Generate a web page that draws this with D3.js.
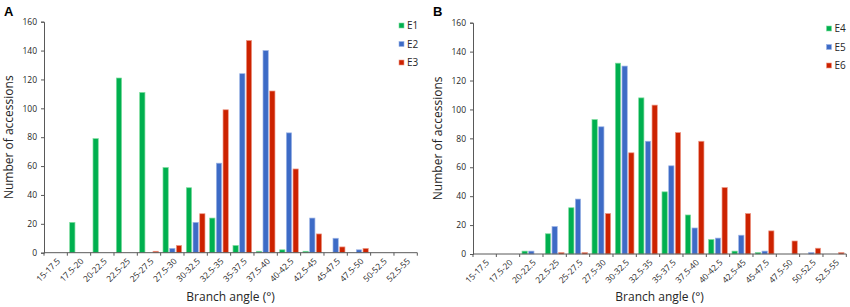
<!DOCTYPE html>
<html>
<head>
<meta charset="utf-8">
<script src="https://cdn.jsdelivr.net/npm/d3@7"></script>
<style>
  body { margin: 0; background: #fff; }
  svg text { font-family: "Open Sans", "Liberation Sans", sans-serif; fill: #262626; }
</style>
</head>
<body>
<svg id="chart" width="850" height="307"></svg>
<script>
// angle classes (x categories)
var categories = ["15-17.5","17.5-20","20-22.5","22.5-25","25-27.5","27.5-30","30-32.5","32.5-35",
                  "35-37.5","37.5-40","40-42.5","42.5-45","45-47.5","47.5-50","50-52.5","52.5-55"];
var yTicks = [0, 20, 40, 60, 80, 100, 120, 140, 160];

// panel A
var seriesA = ["E1", "E2", "E3"];
var e1 = [0, 21, 79, 121, 111, 59, 45, 24, 5, 1, 2, 1, 0, 0, 0, 0];
var e2 = [0, 0, 0, 0, 0, 3, 21, 62, 124, 140, 83, 24, 10, 2, 0, 0];
var e3 = [0, 0, 0, 0, 1, 5, 27, 99, 147, 112, 58, 13, 4, 3, 0, 0];

// panel B
var seriesB = ["E4", "E5", "E6"];
var e4 = [0, 0, 2, 14, 32, 93, 132, 108, 43, 27, 10, 2, 1, 0, 0, 0];
var e5 = [0, 0, 2, 19, 38, 88, 130, 78, 61, 18, 11, 13, 2, 0, 1, 0];
var e6 = [0, 0, 0, 1, 1, 28, 70, 103, 84, 78, 46, 28, 16, 9, 4, 1];

var colors = ["#00b04f", "#3d6bc6", "#cc2200"];
var strokes = ["#7fdc9f", "#9db5e6", "#ee9a88"];

var svg = d3.select("#chart");

function drawPanel(opt) {
  var g = svg.append("g");

  var x = d3.scaleBand().domain(categories).range([opt.x0, opt.x1]).padding(0);
  var x1 = d3.scaleBand().domain(opt.series).range([0, x.bandwidth()])
    .paddingInner(0.21).paddingOuter(0.35);
  var y = d3.scaleLinear().domain([0, 160]).range([opt.y0, opt.y1]);

  // bars
  opt.series.forEach(function(s, si) {
    g.selectAll(null)
      .data(opt.values[si])
      .enter()
      .append("rect")
        .attr("x", function(d, i) { return x(categories[i]) + x1(s); })
        .attr("y", function(d) { return y(d); })
        .attr("width", x1.bandwidth())
        .attr("height", function(d) { return y(0) - y(d); })
        .attr("fill", colors[si])
        .attr("stroke", function(d) { return d > 0 ? strokes[si] : "none"; })
        .attr("stroke-width", 0.7);
  });

  // y axis
  var yAxis = d3.axisLeft(y).tickValues(yTicks).tickSize(3).tickPadding(4);
  var ya = g.append("g")
    .attr("transform", "translate(" + opt.x0 + ",0)")
    .call(yAxis);
  ya.selectAll("text").style("font-size", "8.5px");

  // x axis, ticks on the class boundaries
  var bounds = d3.range(categories.length + 1).map(function(i) { return opt.x0 + i * x.bandwidth(); });
  var xa = g.append("g").attr("transform", "translate(0," + opt.y0 + ")");
  xa.append("line")
    .attr("x1", opt.x0).attr("x2", opt.x1)
    .attr("stroke", "#595959").attr("stroke-width", 1);
  xa.selectAll(".tk")
    .data(bounds)
    .enter()
    .append("line")
      .attr("x1", function(d) { return d; })
      .attr("x2", function(d) { return d; })
      .attr("y1", 0).attr("y2", 3)
      .attr("stroke", "#595959");
  xa.selectAll(".lbl")
    .data(categories)
    .enter()
    .append("text")
      .attr("transform", function(d) {
        return "translate(" + (x(d) + x.bandwidth() / 2 + 3) + ",7) rotate(-45)";
      })
      .attr("text-anchor", "end")
      .attr("dy", "0.35em")
      .style("font-size", "8.5px")
      .text(function(d) { return d; });

  g.selectAll(".domain, .tick line").attr("stroke", "#595959");

  // axis titles
  g.append("text")
    .attr("x", (opt.x0 + opt.x1) / 2)
    .attr("y", 301)
    .attr("text-anchor", "middle")
    .style("font-size", "12px")
    .text("Branch angle (°)");
  g.append("text")
    .attr("transform", "translate(" + (opt.x0 - 31) + "," + ((opt.y0 + opt.y1) / 2) + ") rotate(-90)")
    .attr("text-anchor", "middle")
    .style("font-size", "12px")
    .text("Number of accessions");

  // panel letter
  g.append("text")
    .attr("x", opt.x0 - 40)
    .attr("y", 16)
    .style("font-family", "Liberation Sans, Arial, sans-serif")
    .style("font-weight", "bold")
    .style("font-size", "13px")
    .style("fill", "#000")
    .text(opt.letter);

  // legend
  var lg = g.append("g").attr("transform", "translate(" + opt.legX + "," + opt.legY + ")");
  opt.series.forEach(function(s, si) {
    lg.append("rect")
      .attr("x", 0).attr("y", si * 18.5 - 2.5)
      .attr("width", 5).attr("height", 5)
      .attr("fill", colors[si])
      .attr("stroke", strokes[si]).attr("stroke-width", 0.6);
    lg.append("text")
      .attr("x", 8).attr("y", si * 18.5)
      .attr("dy", "0.35em")
      .style("font-size", "10px")
      .text(s);
  });
}

drawPanel({
  letter: "A", series: seriesA, values: [e1, e2, e3],
  x0: 44, x1: 417.3, y0: 252.7, y1: 21.7,
  legX: 399, legY: 25.5
});
drawPanel({
  letter: "B", series: seriesB, values: [e4, e5, e6],
  x0: 473, x1: 846.3, y0: 254, y1: 22.7,
  legX: 826.5, legY: 28.5
});
</script>
</body>
</html>
